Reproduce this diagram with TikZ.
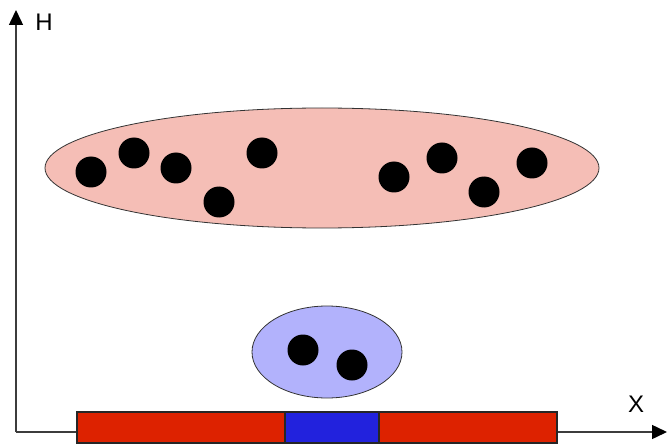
\documentclass[tikz,border=0pt]{standalone}
\usepackage{fontspec}
\setmainfont{Liberation Sans}
\usetikzlibrary{arrows.meta,shapes.geometric}
\definecolor{pinkfill}{RGB}{245,190,182}
\definecolor{lavfill}{RGB}{178,178,252}
\definecolor{barred}{RGB}{221,34,0}
\definecolor{barblue}{RGB}{34,34,221}
\definecolor{axisgray}{RGB}{60,60,60}
\tikzset{
  dot/.style={circle,fill=black,draw=none,minimum size=31pt,inner sep=0pt},
  cloud/.style={ellipse,draw=black!80,line width=0.8pt,inner sep=0pt},
  barpart/.style={rectangle,draw=black!85,line width=1.2pt,inner sep=0pt,minimum height=31pt},
  axis/.style={draw=axisgray,line width=1.5pt,-{Triangle[width=14pt,length=15pt,color=black]}},
  lbl/.style={font=\fontsize{24}{28}\selectfont,inner sep=0pt}
}
\begin{document}
\begin{tikzpicture}[x=1pt,y=-1pt]
\useasboundingbox (0,0) rectangle (668,446);
\coordinate (O) at (16,432);
\coordinate (Htop) at (16,10);
\coordinate (Xend) at (667,432);
\draw[axis] (O) -- (Htop);
\draw[axis] (O) -- (Xend);
\node[lbl] (H) at (44,22) {H};
\node[lbl] (X) at (636,404) {X};
% bar
\node[barpart,fill=barred,minimum width=208pt] (r1) at (181,427.5) {};
\node[barpart,fill=barblue,minimum width=94pt] (b1) at (332,427.5) {};
\node[barpart,fill=barred,minimum width=178pt] (r2) at (468,427.5) {};
% big cloud
\node[cloud,fill=pinkfill,minimum width=554pt,minimum height=120pt] (big) at (322,168) {};
\foreach \n/\x/\y in {a/91/172, b/134/153, c/176/168, d/219/202, e/262/153, f/394/177, g/442/158, h/484/192, i/532/163}
  \node[dot] (d\n) at (\x,\y) {};
% small cloud
\node[cloud,fill=lavfill,minimum width=150pt,minimum height=92pt] (small) at (327,352) {};
\node[dot] (s1) at (303,350) {};
\node[dot] (s2) at (352,365) {};
\end{tikzpicture}
\end{document}
